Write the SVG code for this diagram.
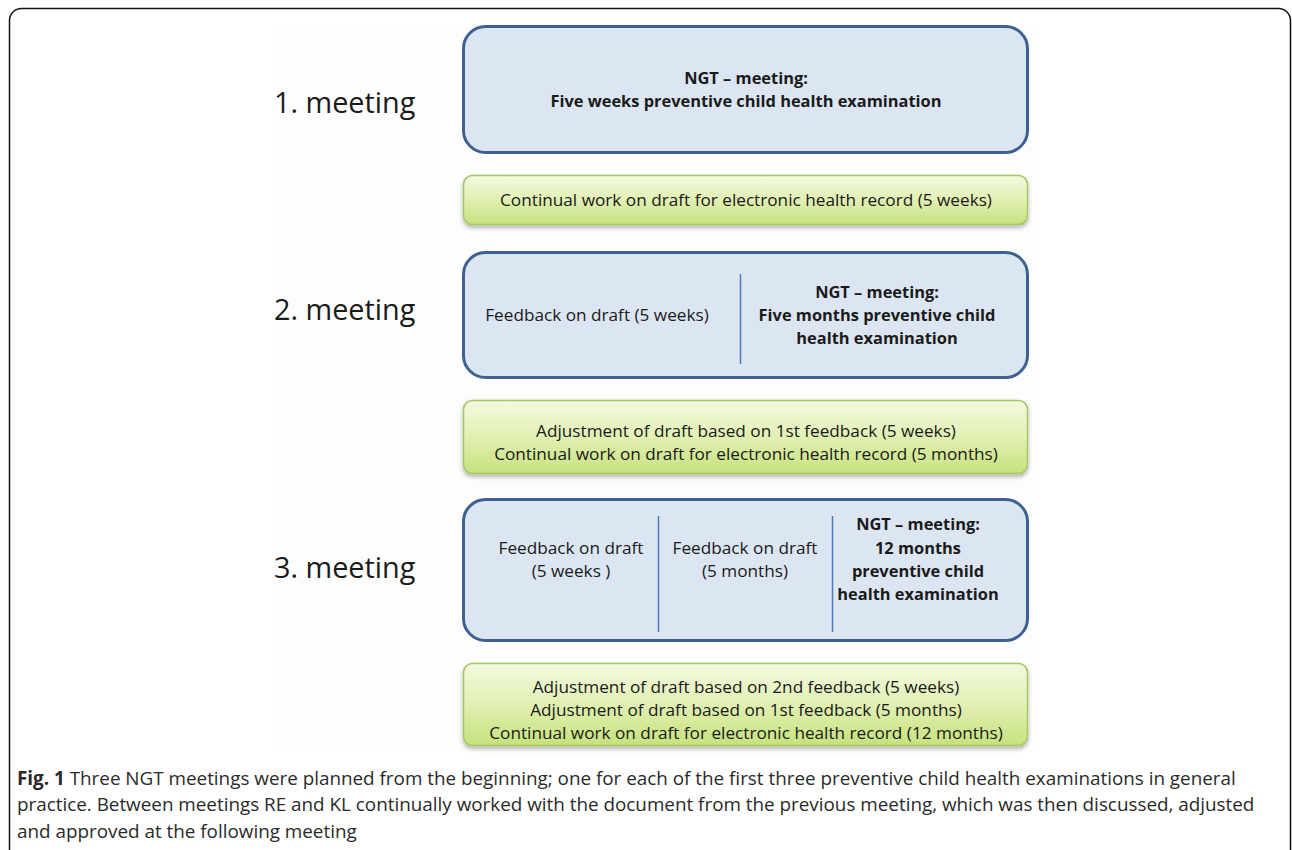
<svg xmlns="http://www.w3.org/2000/svg" width="1292" height="850" viewBox="0 0 1292 850">
<defs>
<linearGradient id="gg" x1="0" y1="0" x2="0" y2="1">
<stop offset="0" stop-color="#f3f9e0"/>
<stop offset="0.5" stop-color="#e1f0b3"/>
<stop offset="1" stop-color="#c7e17c"/>
</linearGradient>
<filter id="sh" x="-5%" y="-20%" width="110%" height="150%">
<feDropShadow dx="0" dy="2.5" stdDeviation="2" flood-color="#000" flood-opacity="0.3"/>
</filter>
<style>
.blue{fill:#dce6f2;stroke:#3f6190;stroke-width:3}
.green{fill:url(#gg);stroke:#a5c864;stroke-width:1.5}
.div{stroke:#4a7ebb;stroke-width:1.5}
text{font-family:"Open Sans","Liberation Sans",sans-serif;fill:#1a1a1a}
.t{font-size:17.2px;text-anchor:middle}
.b{font-size:16.4px;text-anchor:middle;font-weight:bold}
.m{font-size:28.8px}
.cap{font-size:18.85px;fill:#2a2a2a}
</style>
</defs>
<rect x="0" y="0" width="1292" height="850" fill="#fff"/>
<rect x="9.5" y="8.5" width="1281" height="860" rx="12" fill="none" stroke="#111" stroke-width="1.5"/>
<rect x="273" y="24" width="760" height="728" fill="#fdfdfd"/>

<g id="label1"><text class="m" x="274" y="113">1. meeting</text></g>
<g id="label2"><text class="m" x="274" y="320">2. meeting</text></g>
<g id="label3"><text class="m" x="274" y="578">3. meeting</text></g>

<g id="box1">
<rect class="blue" x="463.5" y="26.5" width="564" height="126" rx="22"/>
<text class="b" x="746" y="84">NGT – meeting:</text>
<text class="b" x="746" y="107">Five weeks preventive child health examination</text>
</g>

<g id="green1">
<rect class="green" x="463.5" y="175.5" width="564" height="49" rx="9" filter="url(#sh)"/>
<text class="t" x="746" y="206">Continual work on draft for electronic health record (5 weeks)</text>
</g>

<g id="box2">
<rect class="blue" x="463.5" y="252.5" width="564" height="125" rx="22"/>
<line class="div" x1="740.5" y1="274" x2="740.5" y2="364"/>
<text class="t" x="597" y="321">Feedback on draft (5 weeks)</text>
<text class="b" x="877" y="298">NGT – meeting:</text>
<text class="b" x="877" y="321">Five months preventive child</text>
<text class="b" x="877" y="344">health examination</text>
</g>

<g id="green2">
<rect class="green" x="463.5" y="400.5" width="564" height="73" rx="9" filter="url(#sh)"/>
<text class="t" x="746" y="437">Adjustment of draft based on 1st feedback (5 weeks)</text>
<text class="t" x="746" y="460">Continual work on draft for electronic health record (5 months)</text>
</g>

<g id="box3">
<rect class="blue" x="463.5" y="499.5" width="564" height="141" rx="22"/>
<line class="div" x1="658.5" y1="516" x2="658.5" y2="632"/>
<line class="div" x1="832.5" y1="516" x2="832.5" y2="632"/>
<text class="t" x="571" y="554">Feedback on draft</text>
<text class="t" x="571" y="577">(5 weeks )</text>
<text class="t" x="745" y="554">Feedback on draft</text>
<text class="t" x="745" y="577">(5 months)</text>
<text class="b" x="918" y="530">NGT – meeting:</text>
<text class="b" x="918" y="554">12 months</text>
<text class="b" x="918" y="577">preventive child</text>
<text class="b" x="918" y="600">health examination</text>
</g>

<g id="green3">
<rect class="green" x="463.5" y="663.5" width="564" height="82" rx="9" filter="url(#sh)"/>
<text class="t" x="746" y="693">Adjustment of draft based on 2nd feedback (5 weeks)</text>
<text class="t" x="746" y="716">Adjustment of draft based on 1st feedback (5 months)</text>
<text class="t" x="746" y="739">Continual work on draft for electronic health record (12 months)</text>
</g>

<g id="connectors"></g>

<g id="caption">
<text class="cap" x="17" y="785"><tspan font-weight="bold">Fig. 1</tspan> Three NGT meetings were planned from the beginning; one for each of the first three preventive child health examinations in general</text>
<text class="cap" x="17" y="811">practice. Between meetings RE and KL continually worked with the document from the previous meeting, which was then discussed, adjusted</text>
<text class="cap" x="17" y="838">and approved at the following meeting</text>
</g>
</svg>
